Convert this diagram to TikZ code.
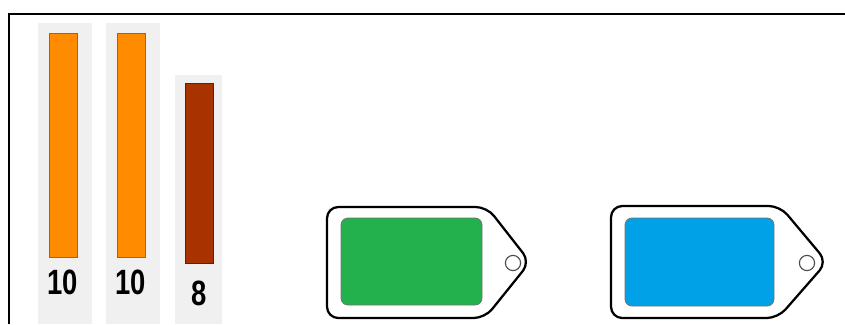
\documentclass[tikz,border=0pt]{standalone}
\usepackage{fontspec}
\setmainfont{Liberation Sans}
\definecolor{barorange}{HTML}{FF8C00}
\definecolor{barrust}{HTML}{A93300}
\definecolor{tabgreen}{HTML}{22B14C}
\definecolor{tabblue}{HTML}{00A1E6}
\tikzset{
  panel/.style={fill=black!6,draw=none},
  count/.style={font=\fontsize{25}{25}\selectfont\bfseries,xscale=0.78,inner sep=0pt},
  tagline/.style={draw=black,line width=1.6pt,rounded corners=8pt,fill=white},
  tagface/.style={draw=black!55,line width=0.6pt,rounded corners=5pt},
}
\begin{document}
\begin{tikzpicture}
\useasboundingbox (0.000,0.000) rectangle (21.125,-8.100);
\draw[line width=2pt] (0.225,-8.100) -- (0.225,-0.350) -- (21.125,-0.350);
\fill[panel] (0.950,-0.575) rectangle (2.300,-8.100);
\draw[fill=barorange,draw=barorange!70!black,line width=0.6pt] (1.225,-0.825) rectangle (1.925,-6.425);
\node[count] (n1) at (1.575,-7.050) {10};
\fill[panel] (2.650,-0.575) rectangle (4.000,-8.100);
\draw[fill=barorange,draw=barorange!70!black,line width=0.6pt] (2.925,-0.825) rectangle (3.625,-6.425);
\node[count] (n2) at (3.275,-7.050) {10};
\fill[panel] (4.375,-1.875) rectangle (5.550,-8.100);
\draw[fill=barrust,draw=barrust!60!black,line width=0.6pt] (4.625,-2.075) rectangle (5.325,-6.575);
\node[count] (n3) at (4.975,-7.325) {8};
% tags
\draw[tagline] (8.175,-5.175) -- (12.175,-5.175) -- (13.250,-6.550) -- (12.125,-7.950) -- (8.175,-7.950) -- cycle;
\draw[tagface,fill=tabgreen] (8.525,-5.450) rectangle (12.050,-7.625);
\draw[black!70,line width=0.8pt] (12.825,-6.575) circle (0.19);
\draw[tagline] (15.275,-5.150) -- (19.500,-5.150) -- (20.675,-6.550) -- (19.450,-7.950) -- (15.275,-7.950) -- cycle;
\draw[tagface,fill=tabblue] (15.625,-5.450) rectangle (19.350,-7.650);
\draw[black!70,line width=0.8pt] (20.175,-6.575) circle (0.19);
\end{tikzpicture}
\end{document}
